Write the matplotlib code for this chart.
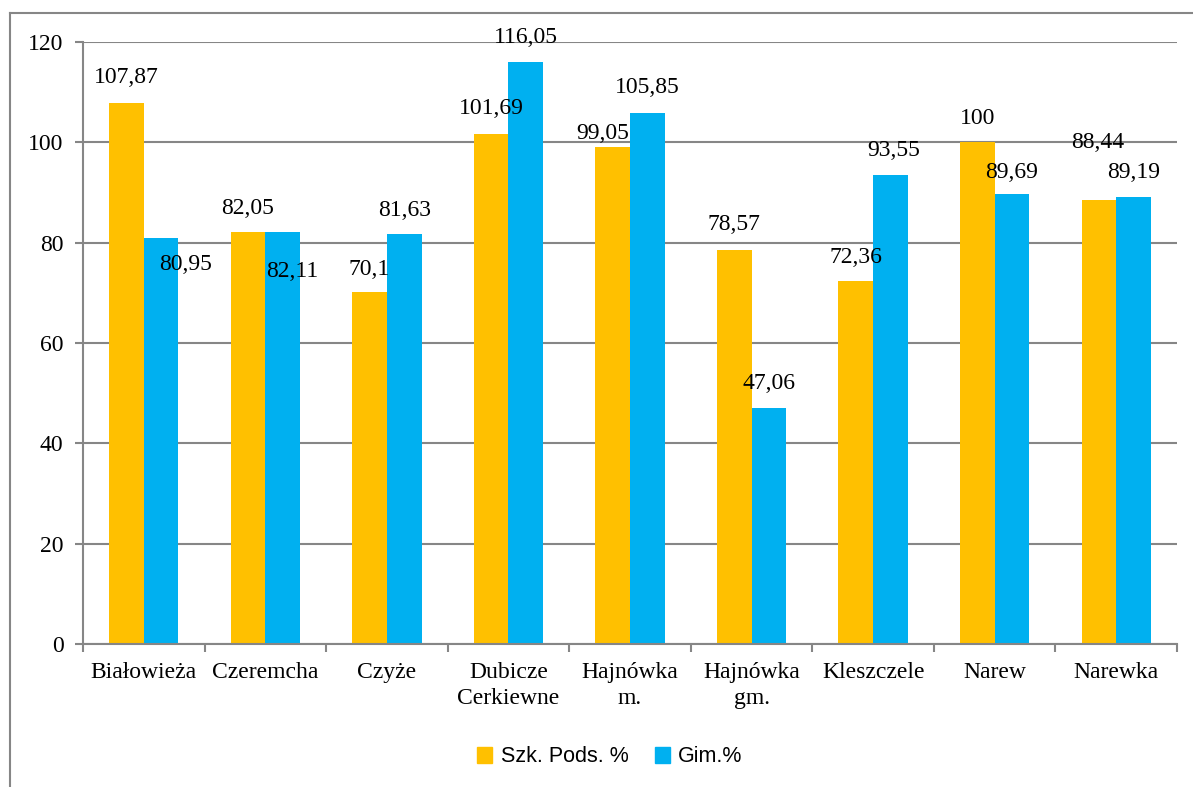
import numpy as np
import matplotlib; matplotlib.use('Agg')
import matplotlib.pyplot as plt
from matplotlib.lines import Line2D
from matplotlib.patches import Patch

categories = ['Białowieża', 'Czeremcha', 'Czyże', 'Dubicze\nCerkiewne', 'Hajnówka\nm.',
              'Hajnówka\ngm.', 'Kleszczele', 'Narew', 'Narewka']
szk_pods = [107.87, 82.05, 70.1, 101.69, 99.05, 78.57, 72.36, 100, 88.44]
gim = [80.95, 82.11, 81.63, 116.05, 105.85, 47.06, 93.55, 89.69, 89.19]
series_names = ['Szk. Pods. %', 'Gim.%']

# label offsets in pixels from (bar centre, bar top), as placed in the original
off_szk = [(0, 25), (0, 24), (0, 23), (0, 25), (-10, 14), (0, 25), (0, 23), (0, 24), (-1, 58)]
off_gim = [(24, -27), (10, -39), (0, 24), (0, 24), (0, 25), (0, 24), (3, 24), (0, 22), (0, 24)]

W, H = 1193, 787
fig = plt.figure(figsize=(W / 100, H / 100), dpi=100)
ax = fig.add_axes([83 / W, (H - 644) / H, (1177 - 83) / W, (644 - 42) / H])

serif = 'Liberation Serif'
fs = 17
grid_c = '#868686'
orange, blue = '#FFC000', '#00B0F0'
bw = 0.285
x = np.arange(len(categories))

ax.bar(x - bw / 2, szk_pods, bw, color=orange, zorder=2)
ax.bar(x + bw / 2, gim, bw, color=blue, zorder=2)

def fmt(v):
    return f'{v:g}'.replace('.', ',')

for xs, vals, offs in [(x - bw / 2, szk_pods, off_szk), (x + bw / 2, gim, off_gim)]:
    for xi, v, (dx, dy) in zip(xs, vals, offs):
        ax.annotate(fmt(v), (xi, v), xytext=(dx, dy), textcoords='offset pixels',
                    ha='center', va='center', fontsize=fs, family=serif,
                    color='black', zorder=3)

ax.set_xlim(-0.5, len(categories) - 0.5)
ax.set_ylim(0, 120)
ax.set_yticks(range(0, 121, 20))
ax.yaxis.grid(True, color=grid_c, linewidth=1.5, zorder=0)
ax.set_axisbelow(True)

ax.set_xticks(x)
ax.set_xticklabels(categories, fontsize=fs, family=serif, linespacing=1.3)
ax.set_xticks(np.arange(-0.5, len(categories)), minor=True)
ax.tick_params(axis='x', which='major', length=0, pad=13)
ax.tick_params(axis='x', which='minor', length=6, width=1.5, color=grid_c, direction='out')
ax.tick_params(axis='y', length=6, width=1.5, color=grid_c, direction='out', pad=8)
for lab in ax.get_yticklabels():
    lab.set_fontsize(fs)
    lab.set_family(serif)

for s in ['top', 'right']:
    ax.spines[s].set_visible(False)
for s in ['left', 'bottom']:
    ax.spines[s].set_color(grid_c)
    ax.spines[s].set_linewidth(1.5)

handles = [Patch(color=orange), Patch(color=blue)]
fig.legend(handles, series_names, loc='center', bbox_to_anchor=(610 / W, 1 - 757 / H),
           ncol=2, frameon=False, handlelength=0.7, handleheight=0.7, handletextpad=0.4,
           columnspacing=1.2, prop={'family': 'Liberation Sans', 'size': 15.5})

# outer chart frame (only left and top edges visible)
fig.add_artist(Line2D([10 / W, 10 / W], [0, 1 - 13 / H], transform=fig.transFigure,
                      color=grid_c, linewidth=1.5))
fig.add_artist(Line2D([10 / W, 1], [1 - 13 / H, 1 - 13 / H], transform=fig.transFigure,
                      color=grid_c, linewidth=1.5))

fig.savefig('out.png', dpi=100)
